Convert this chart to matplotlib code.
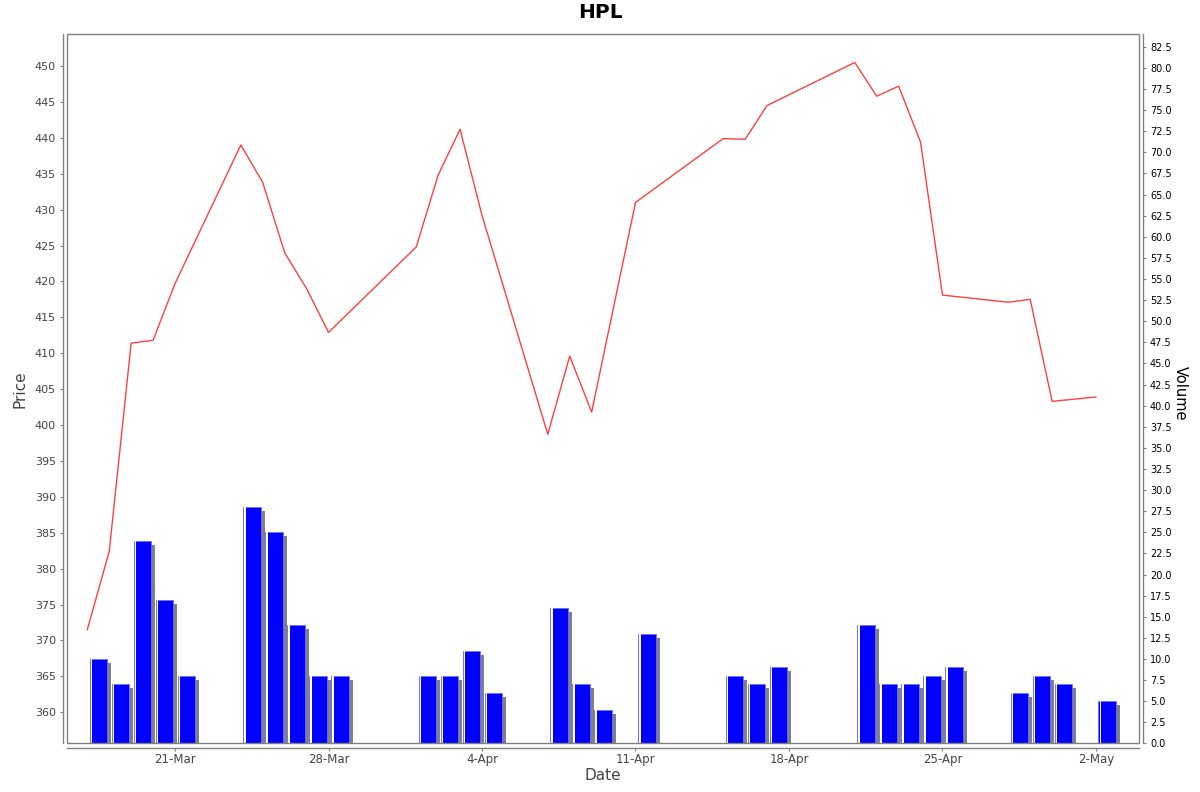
import pandas as pd
import matplotlib
matplotlib.use('Agg')
import matplotlib.pyplot as plt
import matplotlib.dates as mdates
from matplotlib.transforms import ScaledTranslation
from matplotlib.patches import Rectangle


dates = ['2025-03-17', '2025-03-18', '2025-03-19', '2025-03-20', '2025-03-21',
         '2025-03-24', '2025-03-25', '2025-03-26', '2025-03-27', '2025-03-28',
         '2025-04-01', '2025-04-02', '2025-04-03', '2025-04-04',
         '2025-04-07', '2025-04-08', '2025-04-09', '2025-04-11',
         '2025-04-15', '2025-04-16', '2025-04-17',
         '2025-04-21', '2025-04-22', '2025-04-23', '2025-04-24', '2025-04-25',
         '2025-04-28', '2025-04-29', '2025-04-30', '2025-05-02']

price = [371.5, 382.4, 411.4, 411.8, 419.7,
         439.0, 433.8, 424.0, 419.0, 412.9,
         424.8, 434.8, 441.2, 429.2,
         398.7, 409.6, 401.8, 431.0,
         439.9, 439.8, 444.5,
         450.5, 445.8, 447.2, 439.4, 418.1,
         417.1, 417.5, 403.3, 403.9]

volume = [10, 7, 24, 17, 8,
          28, 25, 14, 8, 8,
          8, 8, 11, 6,
          16, 7, 4, 13,
          8, 7, 9,
          14, 7, 7, 8, 9,
          6, 8, 7, 5]

df = pd.DataFrame({'date': pd.to_datetime(dates), 'price': price, 'volume': volume})
x = mdates.date2num(df.date)

fig = plt.figure(figsize=(12, 7.92), dpi=100)
ax = fig.add_axes([0.05583, 0.06124, 0.8933, 0.8958])
ax2 = ax.twinx()

# volume bars with a gray drop shadow (4px right, 4px down)
shadow = ax2.transData + ScaledTranslation(4 / 100, -4 / 100, fig.dpi_scale_trans)
ax2.bar(x + 0.114, df.volume, width=0.806, align='edge', color='#808080',
        transform=shadow, zorder=1)
ax2.bar(x + 0.114, df.volume, width=0.806, align='edge', color='#0000ff',
        edgecolor='#7070ff', linewidth=0.6, zorder=2)
ax2.bar(x + 0.165, df.volume, width=0.065, align='edge', color='white',
        linewidth=0, zorder=3)

ax.plot(x, df.price, color='#ff4040', linewidth=1.0)
ax.set_zorder(ax2.get_zorder() + 1)
ax.patch.set_visible(False)

ax.set_xlim(x[0] - 0.926, x[-1] + 1.96)
ax.set_ylim(355.64, 454.46)
ax2.set_ylim(0, 84.0)

ax.set_yticks(range(360, 451, 5))
ax2.set_yticks([i * 2.5 for i in range(34)])
ax2.yaxis.set_major_formatter(matplotlib.ticker.FormatStrFormatter('%.1f'))
ax.xaxis.set_major_locator(mdates.WeekdayLocator(byweekday=mdates.FR))
ax.xaxis.set_major_formatter(mdates.DateFormatter('%-d-%b'))

# JFreeChart-like frame: plot outline plus axis lines pushed outward
for a in (ax, ax2):
    for s in a.spines.values():
        s.set_visible(False)
ax.spines['left'].set_visible(True)
ax.spines['bottom'].set_visible(True)
ax2.spines['right'].set_visible(True)
for s in (ax.spines['left'], ax.spines['bottom'], ax2.spines['right']):
    s.set_position(('outward', 2.9))
    s.set_color('#808080')
    s.set_linewidth(1.0)
ax2.add_patch(Rectangle((0, 0), 1, 1, transform=ax.transAxes, fill=False,
                        edgecolor='#808080', linewidth=1.0, clip_on=False, zorder=10))

ax.tick_params(axis='y', direction='out', length=2, width=0.8, color='#808080',
               labelsize=8, labelcolor='#444444', pad=3)
ax.tick_params(axis='x', direction='out', length=2, width=0.8, color='#808080',
               labelsize=8.5, labelcolor='#444444', pad=2)
ax2.tick_params(axis='y', direction='out', length=2, width=0.8, color='#808080',
                labelsize=7, labelcolor='black', pad=3)

ax.set_ylabel('Price', fontsize=11, color='#444444', ha='center', va='center')
ax.yaxis.set_label_coords(-0.0438, 0.5)
ax.set_xlabel('Date', fontsize=11, color='#444444', ha='center', va='center')
ax.xaxis.set_label_coords(0.5, -0.0458)
ax2.set_ylabel('Volume', fontsize=10.5, color='black', rotation=270,
               ha='center', va='center')
ax2.yaxis.set_label_coords(1.0382, 0.494)

fig.text(0.5, 1 - 13 / 792, 'HPL', ha='center', va='center',
         fontsize=14.5, fontweight='bold')

plt.savefig('out.png', dpi=100)
